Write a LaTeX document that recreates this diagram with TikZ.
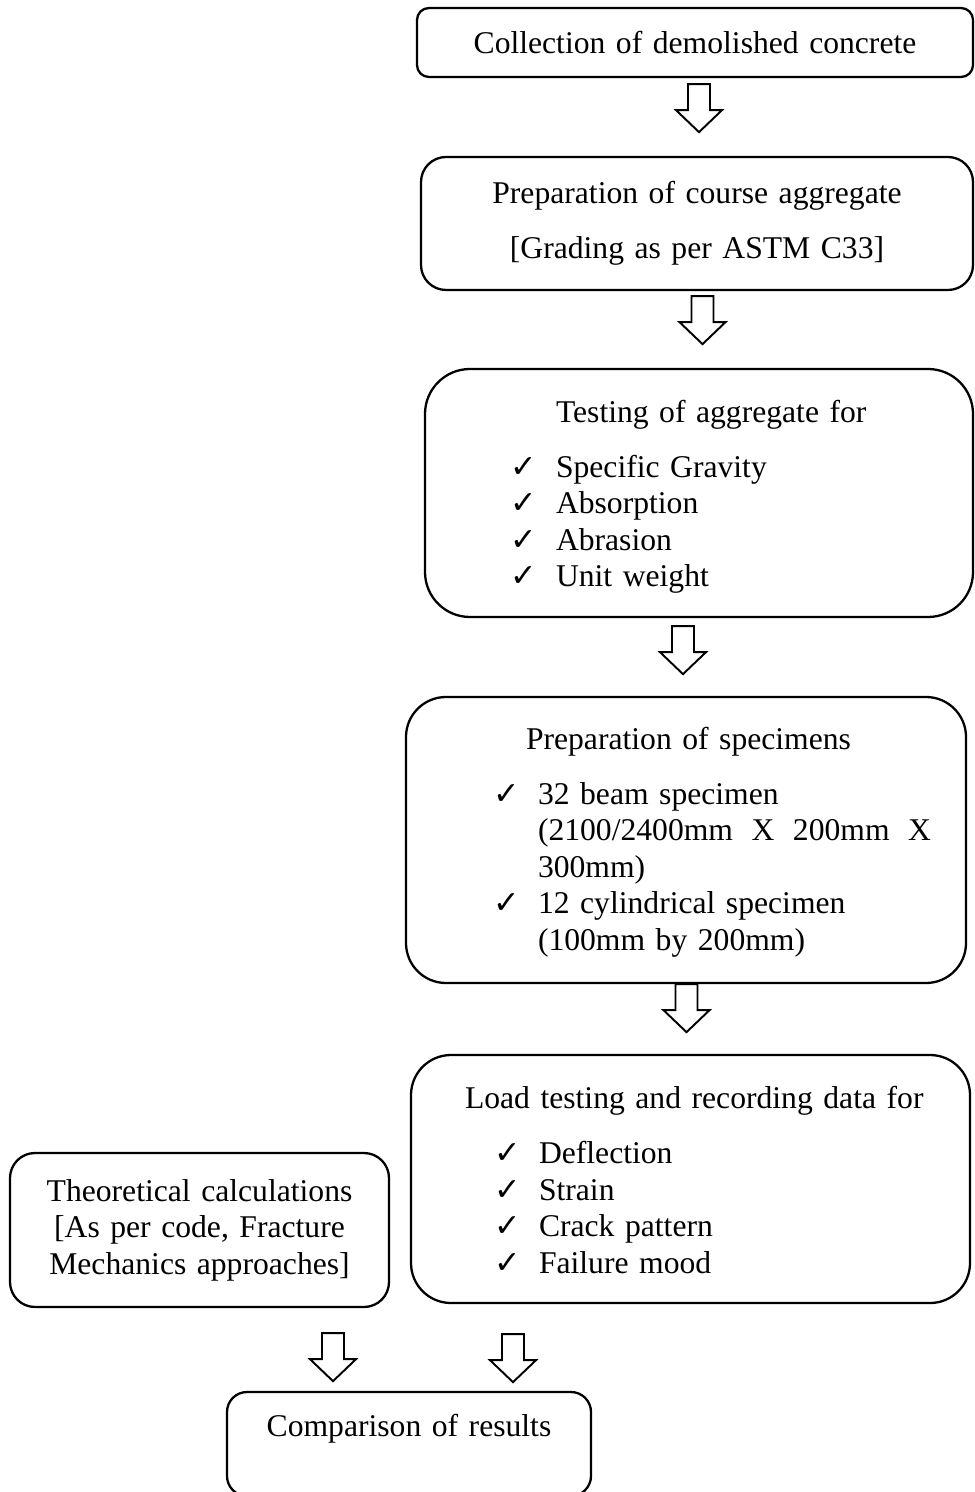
\documentclass[tikz,border=0pt]{standalone}
\usepackage{fontspec}
\setmainfont{Liberation Serif}
\newfontfamily\symfont{DejaVu Sans}
\usepackage{tikz}
\usetikzlibrary{positioning,calc}
\newcommand{\chk}{{\symfont\fontsize{18}{18}\selectfont ✓}}

\begin{document}
\begin{tikzpicture}[x=0.2mm,y=-0.2mm,
 procbox/.style={draw=black,line width=1.3pt,rounded corners=#1,inner xsep=0pt,inner ysep=0pt,
   align=left,font=\fontsize{18}{20.8}\selectfont},
 blockarrow/.style={draw=black,line width=1.1pt,line join=miter,
   to path={($(\tikztostart)+(-11,0)$) -- ($(\tikztotarget)+(-11,-22)$) -- ($(\tikztotarget)+(-23,-22)$)
     -- (\tikztotarget) -- ($(\tikztotarget)+(23,-22)$) -- ($(\tikztotarget)+(11,-22)$)
     -- ($(\tikztostart)+(11,0)$) -- cycle}}
]
\useasboundingbox (0,0) rectangle (974,1492);

\node[procbox=2.4mm,align=center,text width=111.2mm,minimum height=13.8mm] (collect) at (695,42.5)
      {Collection of demolished concrete};
\node[procbox=5mm,align=center,text width=110.4mm,minimum height=26.6mm] (prepagg) at (697,223.5)
      {Preparation of course aggregate\\[10.5pt] {[Grading as per ASTM C33]}};
\node[procbox=9mm,text width=109.6mm,minimum height=49.6mm] (testagg) at (699,493)
      {\hspace*{26.2mm}\rule{0pt}{17pt}Testing of aggregate for\\[10.5pt]
       \hspace*{17mm}\makebox[9.2mm][l]{\chk}Specific Gravity\\
       \hspace*{17mm}\makebox[9.2mm][l]{\chk}Absorption\\
       \hspace*{17mm}\makebox[9.2mm][l]{\chk}Abrasion\\
       \hspace*{17mm}\makebox[9.2mm][l]{\chk}Unit weight};
\node[procbox=8mm,text width=112mm,minimum height=57.2mm] (prepspec) at (686,840)
      {\hspace*{24mm}\rule{0pt}{15pt}Preparation of specimens\\[10.5pt]
       \hspace*{17.4mm}\makebox[9mm][l]{\chk}32 beam specimen\\
       \hspace*{26.4mm}\makebox[78.6mm][s]{(2100/2400mm\hfill X\hfill 200mm\hfill X}\\
       \hspace*{26.4mm}300mm)\\
       \hspace*{17.4mm}\makebox[9mm][l]{\chk}12 cylindrical specimen\\
       \hspace*{26.4mm}(100mm by 200mm)};
\node[procbox=8mm,text width=111.8mm,minimum height=49.6mm] (loadtest) at (690.5,1179)
      {\hspace*{10.8mm}\rule{0pt}{14pt}Load testing and recording data for\\[10.5pt]
       \hspace*{16.6mm}\makebox[9mm][l]{\chk}Deflection\\
       \hspace*{16.6mm}\makebox[9mm][l]{\chk}Strain\\
       \hspace*{16.6mm}\makebox[9mm][l]{\chk}Crack pattern\\
       \hspace*{16.6mm}\makebox[9mm][l]{\chk}Failure mood};
\node[procbox=5mm,align=center,text width=75.8mm,minimum height=30.8mm] (theory) at (199.5,1230)
      {Theoretical calculations\\ {[As per code, Fracture}\\ Mechanics approaches]};
\node[procbox=4mm,align=center,text width=72.8mm,minimum height=20.8mm] (compare) at (409,1444)
      {Comparison of results\\ \mbox{}};

\foreach \n/\from/\dx/\dy in {1/collect/4/6,2/prepagg/5.5/5,3/testagg/-16/8,
 4/prepspec/0.5/0,5/theory/133.5/25,6/loadtest/-177.5/30}
 {\coordinate (a\n) at ($(\from.south)+(\dx,\dy)$);
  \coordinate (t\n) at ($(a\n)+(0,48)$);
  \draw[blockarrow] (a\n) to (t\n);}
\end{tikzpicture}
\end{document}
